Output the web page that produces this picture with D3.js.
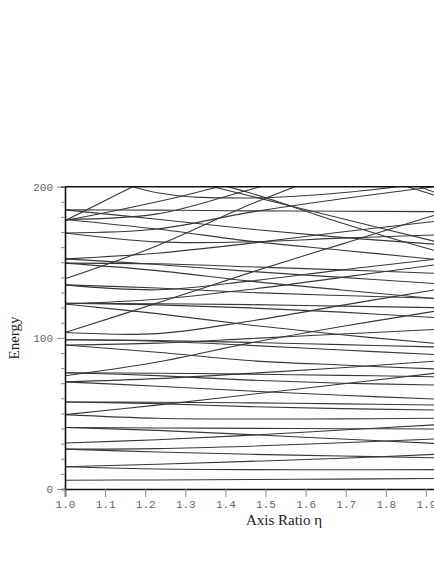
<!DOCTYPE html>
<html><head><meta charset="utf-8">
<script src="https://cdn.jsdelivr.net/npm/d3@7"></script>
<style>body{margin:0;background:#fff;overflow:hidden}</style>
</head><body><svg id="c" width="434" height="562"></svg>
<script>
const etaKnots = [1.0, 1.23, 1.46, 1.69, 1.92, 2.0];
const xTicks = [1.0,1.1,1.2,1.3,1.4,1.5,1.6,1.7,1.8,1.9,2.0];
const yTicks = [0,100,200];
// energy levels (values at each eta knot)
const lvA = [5.78, 6.0, 6.25, 6.55, 6.9, 7.0];
const lvB = [14.68, 13.2, 12.8, 12.7, 12.8, 12.8];
const lvC = [14.68, 16.4, 18.3, 20.3, 22.9, 23.8];
const lvD = [26.37, 24.5, 23.0, 21.8, 20.7, 20.3];
const lvE = [26.37, 26.7, 28.3, 30.6, 33.1, 34.0];
const lvF = [30.47, 32.6, 35.6, 39.0, 42.4, 43.6];
const lvG = [40.71, 38.8, 36.0, 33.1, 30.2, 29.3];
const lvH = [40.71, 40.4, 40.1, 39.9, 39.7, 39.6];
const lvI = [49.22, 55.5, 62.5, 69.5, 76.5, 79.0];
const lvJ = [49.22, 46.8, 46.3, 46.4, 46.8, 47.0];
const lvK = [57.58, 56.5, 54.5, 53.2, 52.3, 52.0];
const lvL = [57.58, 57.4, 57.0, 56.3, 55.6, 55.4];
const lvM = [70.85, 68.0, 64.8, 62.0, 59.5, 58.8];
const lvN = [70.85, 73.0, 76.5, 80.2, 84.5, 86.0];
const lvO = [74.89, 84.0, 96.5, 107.5, 117.5, 121.0];
const lvP = [76.94, 75.0, 72.0, 70.0, 68.8, 68.3];
const lvQ = [76.94, 76.6, 76.0, 75.2, 74.3, 74.0];
const lvR = [95.28, 90.5, 85.0, 82.0, 79.5, 79.0];
const lvS = [95.28, 96.5, 99.5, 102.5, 105.5, 106.5];
const lvT = [98.72, 98.2, 97.0, 95.5, 94.0, 93.5];
const lvU = [98.72, 97.8, 95.0, 92.0, 89.0, 88.3];
const lvV = [103.5, 123.0, 143.0, 162.0, 181.0, 187.0];
const lvW = [103.5, 102.8, 111.0, 121.5, 131.7, 135.0];
const lvX = [122.43, 116.0, 108.5, 102.0, 96.4, 94.5];
const lvY = [122.43, 125.5, 132.0, 140.0, 148.2, 151.0];
const lvZ = [122.91, 121.8, 119.8, 117.0, 113.5, 112.5];
const lv27 = [122.91, 122.6, 122.0, 121.0, 120.0, 119.5];
const lv28 = [135.02, 131.8, 137.5, 145.0, 152.0, 155.0];
const lv29 = [135.02, 133.0, 130.0, 128.0, 126.2, 125.5];
const lv30 = [139.04, 161.0, 188.0, 212.0, 236.0, 244.0];
const lv31 = [149.45, 144.5, 137.5, 131.7, 126.0, 124.0];
const lv32 = [149.45, 149.0, 147.0, 145.0, 142.7, 142.0];
const lv33 = [152.24, 148.5, 144.0, 140.0, 136.0, 135.0];
const lv34 = [152.24, 156.0, 162.5, 170.0, 177.0, 179.0];
const lv35 = [169.4, 172.0, 183.0, 192.0, 200.0, 203.0];
const lv36 = [169.4, 163.5, 163.5, 166.0, 168.0, 169.0];
const lv37 = [177.52, 208.0, 238.0, 268.0, 298.0, 308.0];
const lv38 = [177.52, 190.0, 205.0, 219.0, 233.0, 238.0];
const lv39 = [178.34, 182.0, 198.0, 214.0, 230.0, 235.0];
const lv40 = [178.34, 172.0, 164.0, 158.0, 152.0, 150.0];
const lv41 = [184.67, 178.5, 172.0, 166.5, 162.0, 160.5];
const lv42 = [184.67, 184.5, 184.0, 183.8, 183.5, 183.4];
const lvTopU = [215.0, 196.0, 192.5, 196.0, 203.0, 206.0];
const lvIn1 = [224.0, 209.0, 194.0, 179.0, 164.0, 159.0];
const lvIn2 = [230.0, 212.0, 196.0, 176.0, 158.0, 153.0];
const lvIn3 = [290.0, 265.0, 240.0, 215.0, 194.5, 188.5];
const lvIn4 = [280.0, 260.0, 240.0, 220.0, 196.5, 190.0];
const levels = [lvA,lvB,lvC,lvD,lvE,lvF,lvG,lvH,lvI,lvJ,lvK,lvL,lvM,lvN,lvO,lvP,lvQ,lvR,lvS,lvT,lvU,lvV,lvW,lvX,lvY,lvZ,lv27,lv28,lv29,lv30,lv31,lv32,lv33,lv34,lv35,lv36,lv37,lv38,lv39,lv40,lv41,lv42,lvTopU,lvIn1,lvIn2,lvIn3,lvIn4];

const svg = d3.select("#c");
const x = d3.scaleLinear().domain([1.0, 2.0]).range([65, 466]);
const y = d3.scaleLinear().domain([0, 200]).range([489, 186.7]);

svg.append("defs").append("clipPath").attr("id","plot")
  .append("rect").attr("x",65).attr("y",186.7).attr("width",401).attr("height",302.3);

const line = d3.line().x((d,i)=>x(etaKnots[i])).y(d=>y(d)).curve(d3.curveCatmullRom.alpha(0.5));
svg.append("g").attr("clip-path","url(#plot)")
  .selectAll("path").data(levels).join("path")
  .attr("d", line).attr("fill","none").attr("stroke","#383838").attr("stroke-width",1.1);

// frame top
svg.append("line").attr("x1",65).attr("x2",466).attr("y1",186.7).attr("y2",186.7)
  .attr("stroke","#111").attr("stroke-width",1.6);

// y axis
const yAxis = d3.axisLeft(y).tickValues(d3.range(0,201,10)).tickSize(4)
  .tickFormat(d => yTicks.includes(d) ? d : "");
const gy = svg.append("g").attr("transform","translate(65,0)").call(yAxis);
gy.select(".domain").attr("stroke","#111").attr("stroke-width",1.6);
gy.selectAll(".tick line").attr("stroke","#888").attr("x2", d => yTicks.includes(d) ? -8 : -4);
gy.selectAll(".tick text").attr("x",-12).attr("fill","#666")
  .style("font-family","'Liberation Mono', 'DejaVu Sans Mono', monospace").style("font-size","11px");

// x axis
const xAxis = d3.axisBottom(x).tickValues(xTicks).tickSize(8).tickFormat(d3.format(".1f"));
const gx = svg.append("g").attr("transform","translate(0,489)").call(xAxis);
gx.select(".domain").attr("stroke","#111").attr("stroke-width",1.6);
gx.selectAll(".tick line").attr("stroke","#888");
gx.selectAll(".tick text").attr("y",11).attr("fill","#666")
  .style("font-family","'Liberation Mono', 'DejaVu Sans Mono', monospace").style("font-size","11px");

svg.append("text").attr("x",284).attr("y",525).attr("text-anchor","middle")
  .style("font-family","'Liberation Serif', 'DejaVu Serif', serif").style("font-size","15px")
  .attr("fill","#222").text("Axis Ratio η");
svg.append("text").attr("transform","translate(19,338) rotate(-90)").attr("text-anchor","middle")
  .style("font-family","'Liberation Serif', 'DejaVu Serif', serif").style("font-size","15px")
  .attr("fill","#222").text("Energy");
</script></body></html>
